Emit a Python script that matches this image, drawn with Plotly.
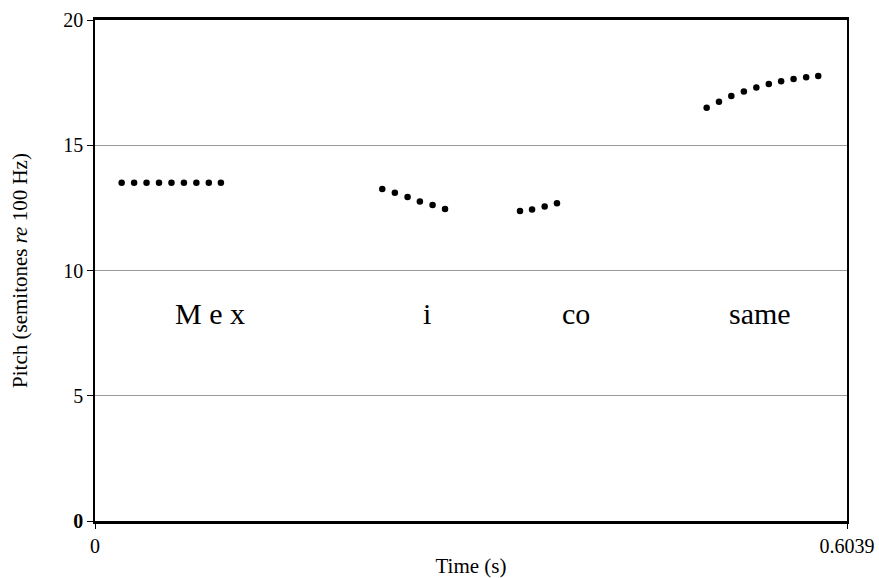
import plotly.graph_objects as go

# Pitch track segments (time in s, pitch in semitones re 100 Hz)
t_mex = [0.0214, 0.0314, 0.0414, 0.0514, 0.0614, 0.0714, 0.0814, 0.0914, 0.1011]
p_mex = [13.50, 13.50, 13.50, 13.50, 13.50, 13.50, 13.50, 13.50, 13.50]

t_i = [0.2307, 0.2408, 0.2510, 0.2609, 0.2711, 0.2811]
p_i = [13.25, 13.10, 12.93, 12.75, 12.61, 12.46]

t_co = [0.3413, 0.3510, 0.3611, 0.3710]
p_co = [12.38, 12.44, 12.55, 12.68]

t_same = [0.4912, 0.5011, 0.5110, 0.5211, 0.5311, 0.5411, 0.5510, 0.5610, 0.5711, 0.5808]
p_same = [16.50, 16.74, 16.97, 17.15, 17.31, 17.45, 17.55, 17.64, 17.71, 17.76]

words = ["M e x", "i", "co", "same"]
word_t = [0.0927, 0.2666, 0.3860, 0.5339]
word_p = [8.3, 8.3, 8.3, 8.3]

x_ticks = [0, 0.6039]
x_ticklabels = ["0", "0.6039"]
y_ticks = [0, 5, 10, 15, 20]
y_ticklabels = ["<b>0</b>", "5", "10", "15", "20"]

FONT = "Liberation Serif"

fig = go.Figure()
for tt, pp in [(t_mex, p_mex), (t_i, p_i), (t_co, p_co), (t_same, p_same)]:
    fig.add_trace(go.Scatter(x=tt, y=pp, mode="markers",
                             marker=dict(size=6.5, color="black"),
                             showlegend=False, hoverinfo="skip"))

for w, x, y in zip(words, word_t, word_p):
    fig.add_annotation(x=x, y=y, text=w, showarrow=False,
                       xanchor="center", yanchor="middle",
                       font=dict(family=FONT, size=30, color="black"))

fig.update_layout(
    width=879, height=578,
    margin=dict(l=95, r=32, t=20, b=57),
    paper_bgcolor="white", plot_bgcolor="white",
    font=dict(family=FONT, color="black"),
    xaxis=dict(range=[0, 0.6039], tickvals=x_ticks, ticktext=x_ticklabels,
               automargin=False, ticklabeloverflow="allow",
               showgrid=False, zeroline=False,
               showline=True, linecolor="black", linewidth=2.5, mirror=True,
               ticks="outside", ticklen=5, tickcolor="black", tickwidth=1,
               tickfont=dict(family=FONT, size=20),
               title=dict(text="Time (s)", font=dict(family=FONT, size=21), standoff=6)),
    yaxis=dict(range=[0, 20], tickvals=y_ticks, ticktext=y_ticklabels,
               automargin=False,
               showgrid=True, gridcolor="#9a9a9a", gridwidth=1, zeroline=False,
               showline=True, linecolor="black", linewidth=1.5, mirror=True,
               ticks="outside", ticklen=6, tickcolor="black", tickwidth=1,
               tickfont=dict(family=FONT, size=20),
               title=dict(text="Pitch (semitones <i>re</i> 100 Hz)",
                          font=dict(family=FONT, size=21), standoff=30)),
)

# remove the page's default body margin so the figure sits at the window's corner
fig.write_html("out.html",
               config={"displayModeBar": False},
               post_script="document.body.style.margin='0';"
                           "document.body.style.overflow='hidden';")
